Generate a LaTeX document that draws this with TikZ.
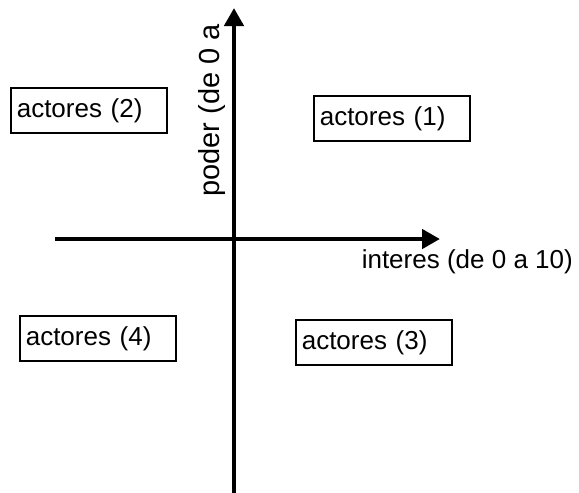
\documentclass[tikz,border=0pt]{standalone}
\usepackage{fontspec}
\setmainfont{Liberation Sans}
\usetikzlibrary{arrows.meta}
\begin{document}
\begin{tikzpicture}[x=1pt,y=-1pt,
  axis/.style={line width=4.5pt,-{Triangle[length=18pt,width=19pt]}},
  actorbox/.style={draw,line width=1.6pt,anchor=north west,align=left,
    text width=144pt,inner xsep=6pt,inner ysep=0pt,minimum height=45pt,
    text height=22pt,text depth=7pt,
    font=\fontsize{26}{31}\selectfont},
  axislabel/.style={inner sep=0pt}]
\useasboundingbox (0,0) rectangle (579,493);
% axes
\coordinate (vbot) at (234,493);
\coordinate (vtop) at (234,8);
\coordinate (hleft) at (55,239);
\coordinate (hright) at (440,239);
\draw[axis] (vbot) -- (vtop);
\draw[axis] (hleft) -- (hright);
% axis labels
\node[axislabel,anchor=base east,font=\fontsize{26}{31}\selectfont]
  (xlab) at (573,268) {interes (de 0 a 10)};
\node[axislabel,rotate=90,anchor=base west,font=\fontsize{29}{34}\selectfont]
  (ylab) at (219,197) {poder (de 0 a};
% quadrant boxes
\node[actorbox] (a2) at (10,87) {actores (2)};
\node[actorbox] (a1) at (313,95) {actores (1)};
\node[actorbox] (a4) at (19,315) {actores (4)};
\node[actorbox] (a3) at (295,319) {actores (3)};
\end{tikzpicture}
\end{document}
